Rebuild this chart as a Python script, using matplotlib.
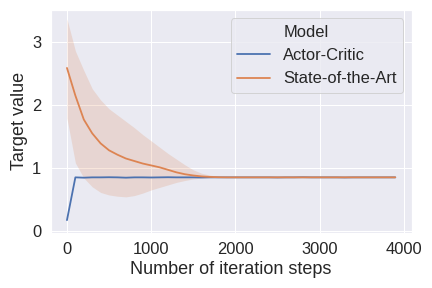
import matplotlib
matplotlib.use("Agg")
import matplotlib.pyplot as plt
import seaborn as sns
import numpy as np
from matplotlib.lines import Line2D

steps = list(range(0, 4000, 100))

actor_critic = [0.17, 0.85, 0.845, 0.85, 0.85, 0.852, 0.85, 0.845, 0.85, 0.85,
                0.848, 0.85, 0.852, 0.85, 0.85, 0.85, 0.848, 0.85, 0.85, 0.85,
                0.85, 0.85, 0.85, 0.85, 0.85, 0.848, 0.85, 0.85, 0.852, 0.85,
                0.85, 0.85, 0.85, 0.848, 0.85, 0.85, 0.85, 0.85, 0.85, 0.85]

sota_mean = [2.59, 2.15, 1.77, 1.55, 1.39, 1.28, 1.21, 1.15, 1.11, 1.07,
             1.04, 1.01, 0.97, 0.93, 0.90, 0.88, 0.865, 0.857, 0.852, 0.85,
             0.85, 0.85, 0.85, 0.85, 0.85, 0.85, 0.85, 0.85, 0.85, 0.85,
             0.85, 0.85, 0.85, 0.85, 0.85, 0.85, 0.85, 0.85, 0.85, 0.85]

sota_upper = [3.37, 2.86, 2.55, 2.26, 2.08, 1.94, 1.84, 1.74, 1.64, 1.53,
              1.43, 1.33, 1.23, 1.14, 1.05, 0.97, 0.915, 0.885, 0.865, 0.855,
              0.852, 0.85, 0.85, 0.85, 0.85, 0.85, 0.85, 0.85, 0.85, 0.85,
              0.85, 0.85, 0.85, 0.85, 0.85, 0.85, 0.85, 0.85, 0.85, 0.85]

sota_lower = [1.79, 1.08, 0.84, 0.70, 0.61, 0.57, 0.55, 0.54, 0.56, 0.60,
              0.65, 0.69, 0.73, 0.77, 0.80, 0.825, 0.838, 0.845, 0.848, 0.85,
              0.85, 0.85, 0.85, 0.85, 0.85, 0.85, 0.85, 0.85, 0.85, 0.85,
              0.85, 0.85, 0.85, 0.85, 0.85, 0.85, 0.85, 0.85, 0.85, 0.85]

labels = ["Actor-Critic", "State-of-the-Art"]
legend_title = "Model"

sns.set_theme(style="darkgrid", font_scale=1.5)
plt.rcParams['font.family'] = ['Liberation Sans', 'DejaVu Sans']

colors = sns.color_palette("deep")
fig = plt.figure(figsize=(6, 4), dpi=72)
ax = fig.add_axes([0.117, 0.192, 0.836, 0.773])

ax.plot(steps, actor_critic, color=colors[0], lw=1.8, label=labels[0])
ax.plot(steps, sota_mean, color=colors[1], lw=1.8, label=labels[1])
ax.fill_between(steps, sota_lower, sota_upper, color=colors[1], alpha=0.2, lw=0)

ax.set_xlim(-195, 4095)
ax.set_ylim(-0.03, 3.51)
ax.set_xticks([0, 1000, 2000, 3000, 4000])
ax.set_yticks([0, 1, 2, 3])
ax.set_xlabel("Number of iteration steps")
ax.set_ylabel("Target value")

handles = [Line2D([], [], color='none'),
           Line2D([], [], color=colors[0], lw=1.8),
           Line2D([], [], color=colors[1], lw=1.8)]
ax.legend(handles, [legend_title] + labels, loc="upper right")

fig.savefig("out.png", dpi=72)
